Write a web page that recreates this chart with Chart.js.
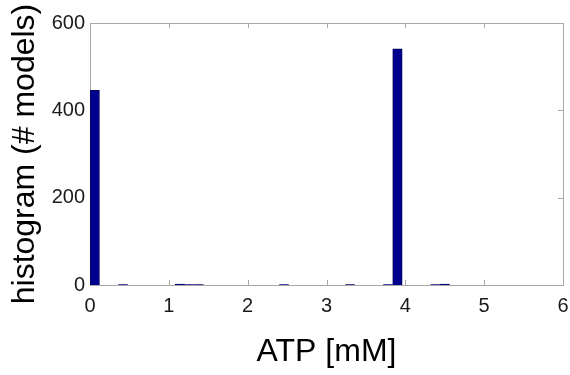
<!DOCTYPE html>
<html>
<head>
<meta charset="utf-8">
<script src="https://cdn.jsdelivr.net/npm/chart.js@4/dist/chart.umd.min.js"></script>
<style>
  html, body { margin: 0; padding: 0; background: #ffffff; }
  #wrap { width: 570px; height: 375px; position: relative; }
</style>
</head>
<body>
<div id="wrap"><canvas id="c" width="570" height="375"></canvas></div>
<script>
// ---- data ----
const binCenters = [0.06, 0.42, 1.14, 1.26, 1.38, 2.46, 3.30, 3.78, 3.90, 4.38, 4.50]; // ATP [mM]
const modelCounts = [446, 1, 2, 1, 1, 1, 1, 1, 541, 1, 2];                          // # models
const xTickValues = [0, 1, 2, 3, 4, 5, 6];
const yTickValues = [0, 200, 400, 600];
const xTitle = 'ATP [mM]';
const yTitle = 'histogram (# models)';

const FONT = '"Liberation Sans", Arial, Helvetica, sans-serif';
const AXIS_GREY = '#a8a8a8';

const boxPlugin = {
  id: 'matlabBox',
  beforeDatasetsDraw(chart) {
    const {ctx, chartArea: a, scales: {x, y}} = chart;
    ctx.save();
    ctx.strokeStyle = AXIS_GREY;
    ctx.lineWidth = 1;
    ctx.strokeRect(Math.round(a.left) + 0.5, Math.round(a.top) + 0.5,
                   Math.round(a.right - a.left), Math.round(a.bottom - a.top));
    const tl = 5;
    ctx.beginPath();
    xTickValues.forEach(v => {
      const px = Math.round(x.getPixelForValue(v)) + 0.5;
      ctx.moveTo(px, a.bottom); ctx.lineTo(px, a.bottom - tl);
      ctx.moveTo(px, a.top); ctx.lineTo(px, a.top + tl);
    });
    yTickValues.forEach(v => {
      const py = Math.round(y.getPixelForValue(v)) + 0.5;
      ctx.moveTo(a.left, py); ctx.lineTo(a.left + tl, py);
      ctx.moveTo(a.right, py); ctx.lineTo(a.right - tl, py);
    });
    ctx.stroke();
    ctx.restore();
  }
};

new Chart(document.getElementById('c'), {
  type: 'bar',
  data: {
    datasets: [{
      data: binCenters.map((b, i) => ({x: b, y: modelCounts[i]})),
      backgroundColor: '#00008f',
      borderColor: '#000060',
      borderWidth: 1,
      barPercentage: 1.0,
      categoryPercentage: 1.0,
      grouped: false
    }]
  },
  options: {
    responsive: false,
    animation: false,
    events: [],
    layout: { padding: { top: 23, right: 7, left: 0, bottom: 0 } },
    plugins: { legend: { display: false }, tooltip: { enabled: false } },
    scales: {
      x: {
        type: 'linear',
        min: 0, max: 6,
        offset: false,
        afterBuildTicks: s => { s.ticks = xTickValues.map(v => ({value: v})); },
        afterFit: s => { s.height = 90; },
        grid: { display: false, drawTicks: true, tickLength: 8 },
        border: { display: false },
        ticks: {
          padding: 1,
          color: '#1a1a1a',
          font: { family: FONT, size: 20 },
          maxRotation: 0,
          autoSkip: false
        },
        title: {
          display: true,
          text: xTitle,
          color: '#000000',
          font: { family: FONT, size: 32 },
          padding: { top: 0, bottom: 4 }
        }
      },
      y: {
        type: 'linear',
        min: 0, max: 600,
        afterBuildTicks: s => { s.ticks = yTickValues.map(v => ({value: v})); },
        afterFit: s => { s.width = 90; },
        grid: { display: false, drawTicks: false },
        border: { display: false },
        ticks: {
          padding: 5,
          color: '#1a1a1a',
          font: { family: FONT, size: 20 },
          autoSkip: false
        },
        title: {
          display: true,
          text: yTitle,
          color: '#000000',
          font: { family: FONT, size: 32 },
          padding: { top: 6, bottom: 0 }
        }
      }
    }
  },
  plugins: [boxPlugin]
});
</script>
</body>
</html>
